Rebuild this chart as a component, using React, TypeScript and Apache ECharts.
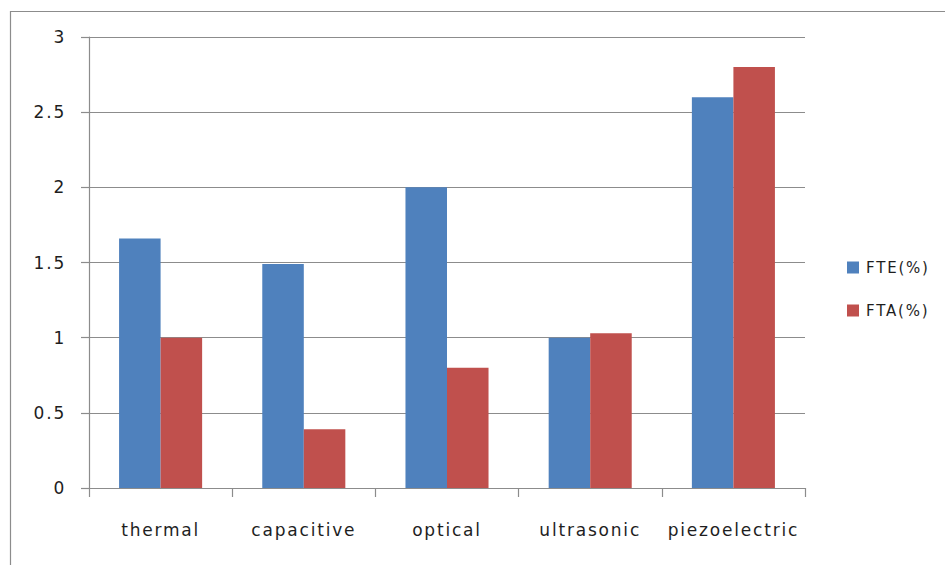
import React, { useEffect, useRef } from "react";
import * as echarts from "echarts";

const categories = ["thermal", "capacitive", "optical", "ultrasonic", "piezoelectric"];
const fteValues = [1.66, 1.49, 2.0, 1.0, 2.6];
const ftaValues = [1.0, 0.39, 0.8, 1.03, 2.8];
const seriesNames = ["FTE(%)", "FTA(%)"];

const FONT = "'DejaVu Sans', sans-serif";
const GRAY = "#8c8c8c";
const TEXT = "#1e1e1e";

export default function App() {
  const ref = useRef<HTMLDivElement>(null);

  useEffect(() => {
    if (!ref.current) return;
    const chart = echarts.init(ref.current, undefined, { renderer: "svg" });
    chart.setOption({
      animation: false,
      backgroundColor: "#ffffff",
      graphic: [
        {
          type: "rect",
          shape: { x: 10.5, y: 11.5, width: 960, height: 600 },
          style: { fill: "none", stroke: GRAY, lineWidth: 1.2 },
          silent: true,
        },
      ],
      grid: { left: 89, right: 140, top: 37, bottom: 77 },
      legend: {
        orient: "vertical",
        left: 842,
        top: 255,
        itemWidth: 12,
        itemHeight: 12,
        itemGap: 28,
        icon: "rect",
        textStyle: { fontFamily: FONT, fontSize: 15, color: TEXT, padding: [0, 0, 0, 2] },
        data: seriesNames,
      },
      xAxis: {
        type: "category",
        data: categories,
        axisLine: { lineStyle: { color: GRAY, width: 1.2 } },
        axisTick: { show: true, length: 9, lineStyle: { color: GRAY, width: 1.2 } },
        axisLabel: { fontFamily: FONT, fontSize: 17, color: TEXT, margin: 33 },
      },
      yAxis: {
        type: "value",
        min: 0,
        max: 3,
        interval: 0.5,
        axisLine: { show: true, lineStyle: { color: GRAY, width: 1.2 } },
        axisTick: { show: true, length: 8, lineStyle: { color: GRAY, width: 1.2 } },
        axisLabel: { fontFamily: FONT, fontSize: 17, color: TEXT, margin: 23 },
        splitLine: { lineStyle: { color: GRAY, width: 1.2 } },
      },
      series: [
        {
          name: seriesNames[0],
          type: "bar",
          data: fteValues,
          barGap: "0%",
          barCategoryGap: "42%",
          itemStyle: { color: "#4F81BD" },
        },
        {
          name: seriesNames[1],
          type: "bar",
          data: ftaValues,
          barGap: "0%",
          barCategoryGap: "42%",
          itemStyle: { color: "#C0504D" },
        },
      ],
    });
    return () => chart.dispose();
  }, []);

  return (
    <>
      <style>{".fig-chart text { letter-spacing: 1.8px; }"}</style>
      <div
        ref={ref}
        className="fig-chart"
        style={{ position: "fixed", left: 0, top: 0, width: 945, height: 565 }}
      />
    </>
  );
}
